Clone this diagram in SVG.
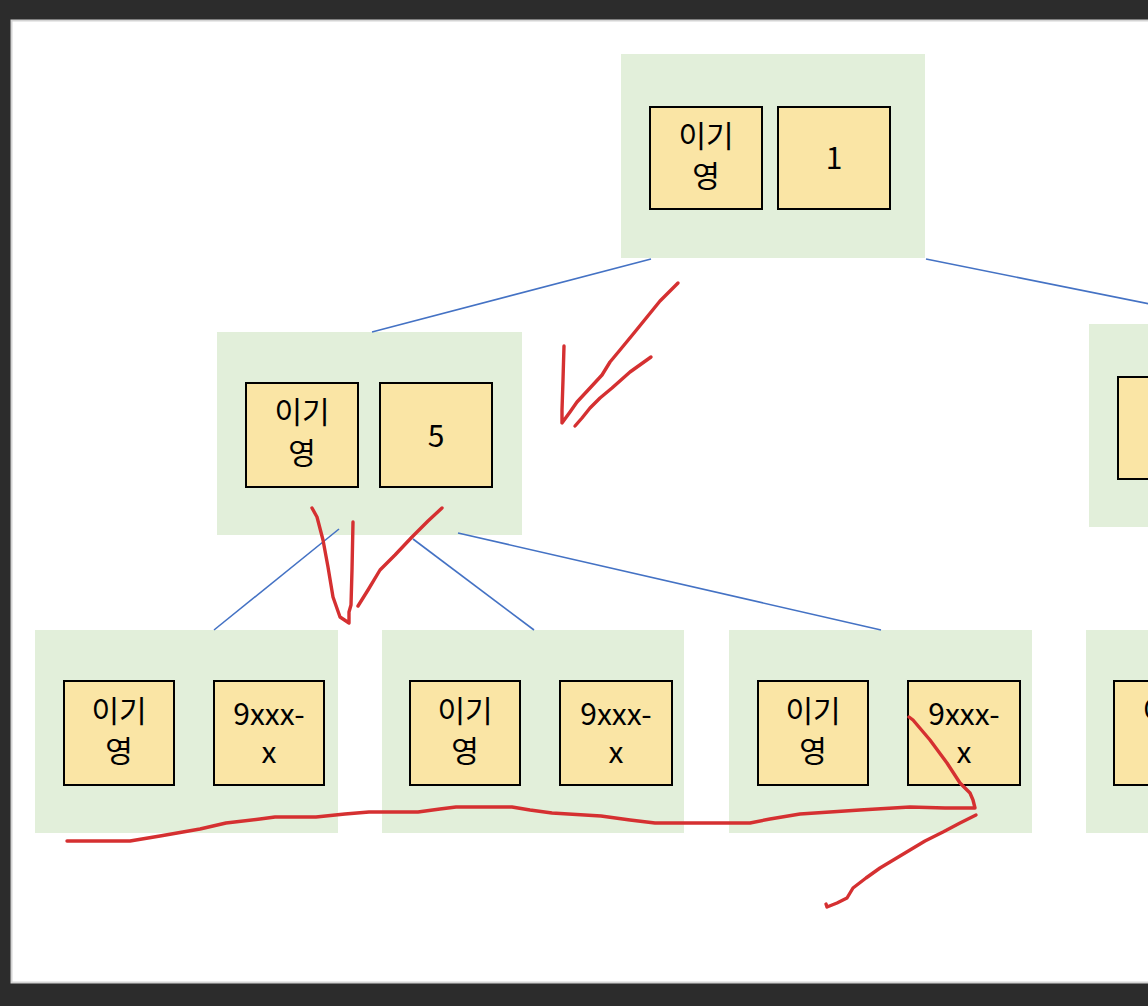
<svg xmlns="http://www.w3.org/2000/svg" width="1148" height="1006" viewBox="0 0 1148 1006">
<defs>
<style>
.node{fill:#e2efda}
.box{fill:#fae5a5;stroke:#000;stroke-width:2}
.t{font-family:"Noto Sans CJK KR","Noto Sans",sans-serif;font-size:30px;fill:#000;text-anchor:middle}
.edge{stroke:#4472c4;stroke-width:1.6;fill:none}
.ink{stroke:#d53031;stroke-width:3.4;fill:none;stroke-linecap:round;stroke-linejoin:round}
</style>
</defs>
<rect x="0" y="0" width="1148" height="1006" fill="#2c2c2c"/>
<rect x="11.5" y="20.5" width="1140" height="962" fill="#fff" stroke="#d4d4d4" stroke-width="2"/>

<g id="root">
<rect class="node" x="621" y="54" width="304" height="204"/>
<rect class="box" x="650" y="107" width="112" height="102"/>
<text class="t" x="706" y="147">이기</text><text class="t" x="706" y="187">영</text>
<rect class="box" x="778" y="107" width="112" height="102"/>
<text class="t" x="834" y="169">1</text>
</g>

<g id="mid-left">
<rect class="node" x="217" y="332" width="305" height="203"/>
<rect class="box" x="246" y="383" width="112" height="104"/>
<text class="t" x="302" y="423">이기</text><text class="t" x="302" y="464">영</text>
<rect class="box" x="380" y="383" width="112" height="104"/>
<text class="t" x="436" y="447">5</text>
</g>

<g id="mid-right">
<rect class="node" x="1089" y="324" width="70" height="203"/>
<rect class="box" x="1118" y="377" width="112" height="102"/>
<text class="t" x="1174" y="417">이기</text><text class="t" x="1174" y="457">영</text>
</g>

<g id="leaf-1">
<rect class="node" x="35" y="630" width="303" height="203"/>
<rect class="box" x="64" y="681" width="110" height="104"/>
<text class="t" x="119" y="722">이기</text><text class="t" x="119" y="762">영</text>
<rect class="box" x="214" y="681" width="110" height="104"/>
<text class="t" x="269" y="725">9xxx-</text><text class="t" x="269" y="763">x</text>
</g>

<g id="leaf-2">
<rect class="node" x="382" y="630" width="302" height="203"/>
<rect class="box" x="410" y="681" width="110" height="104"/>
<text class="t" x="465" y="722">이기</text><text class="t" x="465" y="762">영</text>
<rect class="box" x="560" y="681" width="112" height="104"/>
<text class="t" x="616" y="725">9xxx-</text><text class="t" x="616" y="763">x</text>
</g>

<g id="leaf-3">
<rect class="node" x="729" y="630" width="303" height="203"/>
<rect class="box" x="758" y="681" width="110" height="104"/>
<text class="t" x="813" y="722">이기</text><text class="t" x="813" y="762">영</text>
<rect class="box" x="908" y="681" width="112" height="104"/>
<text class="t" x="964" y="725">9xxx-</text><text class="t" x="964" y="763">x</text>
</g>

<g id="leaf-4">
<rect class="node" x="1086" y="630" width="70" height="203"/>
<rect class="box" x="1114" y="681" width="112" height="104"/>
<text class="t" x="1170" y="722">이기</text><text class="t" x="1170" y="762">영</text>
</g>

<g id="connectors">
<line class="edge" x1="651" y1="259" x2="372" y2="332"/>
<line class="edge" x1="926" y1="259" x2="1150" y2="304"/>
<line class="edge" x1="339" y1="529" x2="214" y2="630"/>
<line class="edge" x1="413" y1="539" x2="534" y2="630"/>
<line class="edge" x1="458" y1="533" x2="881" y2="630"/>
</g>

<g id="annotations">
<path class="ink" d="M678,283 L660,301 L647,317 L634,333 L620,350 L610,362 L602,375 L590,388 L577,402 L570,412 L562,423 L562,410 L563,380 L564,346"/>
<path class="ink" d="M651,357 L630,372 L612,388 L600,398 L590,408 L582,418 L575,426"/>
<path class="ink" d="M312,508 L317,517 L323,540 L328,567 L333,597 L340,617 L349,623 L349,612 L351,605 L352,570 L353,522"/>
<path class="ink" d="M358,606 L368,590 L380,570 L395,555 L412,537 L428,521 L442,508"/>
<path class="ink" d="M67,841 L130,841 L160,836 L200,829 L226,823 L260,819 L275,817 L316,817 L345,814 L369,812 L418,812 L440,809 L456,807 L512,807 L530,810 L552,813 L601,816 L630,820 L655,823 L750,823 L770,819 L800,814 L860,810 L910,807 L945,808 L975,808 L973,800 L970,793 L960,783 L947,763 L930,740 L913,720 L909,717"/>
<path class="ink" d="M976,815 L960,823 L943,832 L925,841 L910,850 L895,859 L880,868 L866,878 L853,888 L847,898 L837,903 L827,907 L826,904"/>
</g>
</svg>
